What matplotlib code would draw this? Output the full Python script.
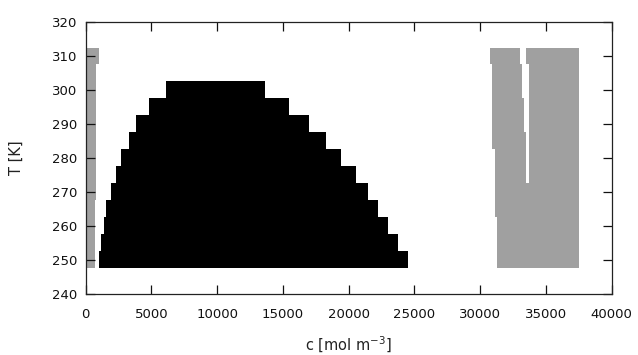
import matplotlib
matplotlib.use("Agg")
import matplotlib.pyplot as plt

# temperature levels [K]
T_black = [250, 255, 260, 265, 270, 275, 280, 285, 290, 295, 300]
black_lo = [1030, 1190, 1410, 1570, 1950, 2330, 2710, 3320, 3850, 4810, 6100]
black_hi = [24510, 23730, 22990, 22250, 21490, 20530, 19410, 18270, 17000, 15480, 13610]

T_gray = [250, 255, 260, 265, 270, 275, 280, 285, 290, 295, 300, 305, 310]
# low-c gray band
gl_lo = [60, 60, 60, 60, 60, 60, 60, 60, 60, 60, 60, 60, 60]
gl_hi = [680, 680, 680, 680, 800, 800, 800, 800, 800, 800, 800, 800, 1030]
# high-c gray band (split by a thin gap at the higher temperatures)
gr_lo = [31270, 31270, 31270, 31120, 31120, 31120, 31120, 30900, 30900, 30900, 30900, 30900, 30750]
gap_lo = [None, None, None, None, None, 33480, 33480, 33480, 33330, 33330, 33160, 33160, 33000]
gap_hi = [None, None, None, None, None, 33710, 33710, 33710, 33710, 33710, 33710, 33710, 33460]
gr_hi = [37490] * 13

black = "#000000"
gray = "#a0a0a0"

fig = plt.figure(figsize=(6.38, 3.55), dpi=100)
ax = fig.add_axes([0.1343, 0.172, 0.8245, 0.766])

ax.barh(T_black, [h - l for l, h in zip(black_lo, black_hi)], left=black_lo,
        height=5, color=black, linewidth=0)
ax.barh(T_gray, [h - l for l, h in zip(gl_lo, gl_hi)], left=gl_lo,
        height=5, color=gray, linewidth=0)

for T, lo, g0, g1, hi in zip(T_gray, gr_lo, gap_lo, gap_hi, gr_hi):
    if g0 is None:
        ax.barh(T, hi - lo, left=lo, height=5, color=gray, linewidth=0)
    else:
        ax.barh(T, g0 - lo, left=lo, height=5, color=gray, linewidth=0)
        ax.barh(T, hi - g1, left=g1, height=5, color=gray, linewidth=0)

ax.set_xlim(0, 40000)
ax.set_ylim(240, 320)
ax.set_xticks(range(0, 40001, 5000))
ax.set_yticks(range(240, 321, 10))
ax.tick_params(direction="in", length=6.5, width=0.9, top=True, right=True,
               labelsize=9.5, colors="#111111")
ax.tick_params(axis="x", pad=10)
ax.tick_params(axis="y", pad=6)
for s in ax.spines.values():
    s.set_linewidth(0.9)
    s.set_color("#222222")

ax.set_xlabel("c [mol m$^{-3}$]", fontsize=10.5, color="#222222", labelpad=10)
ax.set_ylabel("T [K]", fontsize=10.5, color="#222222", labelpad=20)

fig.savefig("out.png", dpi=100)
